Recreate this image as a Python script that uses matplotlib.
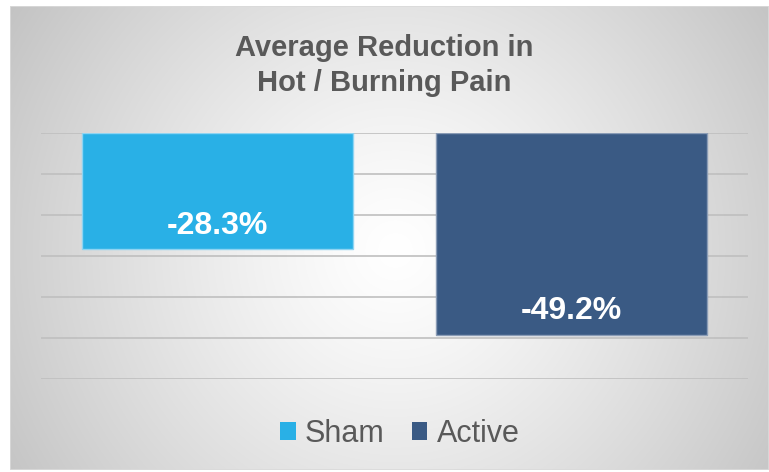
import numpy as np
import matplotlib
matplotlib.use("Agg")
import matplotlib.pyplot as plt
from matplotlib.patches import Rectangle

# Data
categories = ["Sham", "Active"]
values = [-28.3, -49.2]
labels = ["-28.3%", "-49.2%"]
colors = ["#29B0E6", "#3A5A84"]
edge_colors = ["#8FD4F2", "#8A9CB6"]
title = "Average Reduction in\nHot / Burning Pain"

W, H = 769, 472
fig = plt.figure(figsize=(W / 100, H / 100), dpi=100)
fig.patch.set_facecolor("white")
FAM = ["Liberation Sans", "DejaVu Sans"]

# Background panel with radial gradient
px0, py0, px1, py1 = 10, 6, 769, 470
bg = fig.add_axes([px0 / W, 1 - py1 / H, (px1 - px0) / W, (py1 - py0) / H], zorder=0)
xx, yy = np.meshgrid(np.arange(px0, px1), np.arange(py0, py1))
cx, cy = 395, 250
d = np.sqrt((xx - cx) ** 2 + (yy - cy) ** 2) / 456.0
g = 1.0 - 0.235 * np.clip(d, 0, 1.1) ** 1.25
img = np.dstack([g, g, g])
bg.imshow(img, aspect="auto", extent=[0, 1, 0, 1], origin="upper")
bg.set_axis_off()
bg.add_patch(Rectangle((0, 0), 1, 1, transform=bg.transAxes, fill=False,
                       edgecolor="#DADADA", linewidth=1.2))

# Main axes
l, r, t, b = 41, 748, 133, 379
ax = fig.add_axes([l / W, 1 - b / H, (r - l) / W, (b - t) / H], zorder=1)
ax.patch.set_alpha(0)
ax.set_xlim(-0.5, 1.5)
ax.set_ylim(-60, 0)
ax.set_yticks(np.arange(-60, 1, 10))
ax.yaxis.grid(True, color="#BFBFBF", linewidth=1.2)
ax.set_axisbelow(True)
for s in ax.spines.values():
    s.set_visible(False)
ax.tick_params(left=False, bottom=False, labelleft=False, labelbottom=False)

x = np.arange(len(categories))
bars = ax.bar(x, values, width=0.767, color=colors, edgecolor=edge_colors,
              linewidth=1.0)
for xi, v, lab in zip(x, values, labels):
    ax.annotate(lab, (xi, v), xytext=(0, 11), textcoords="offset points",
                ha="center", va="baseline", color="white", fontsize=23,
                fontweight="bold", family=FAM)

fig.text(0.5 + 0 / W, 1 - 65.5 / H, title, ha="center", va="center", fontsize=21,
         fontweight="bold", color="#595959", linespacing=1.36, family=FAM)

handles = [Rectangle((0, 0), 1, 1, facecolor=c, edgecolor="none") for c in colors]
leg = fig.legend(handles, categories, loc="center", bbox_to_anchor=(400 / W, 1 - 434 / H),
                 ncol=2, frameon=False, handlelength=0.5, handleheight=0.5,
                 handletextpad=0.3, columnspacing=0.9,
                 prop={"family": FAM, "size": 22})
for txt in leg.get_texts():
    txt.set_color("#595959")

fig.savefig("out.png", dpi=100)
